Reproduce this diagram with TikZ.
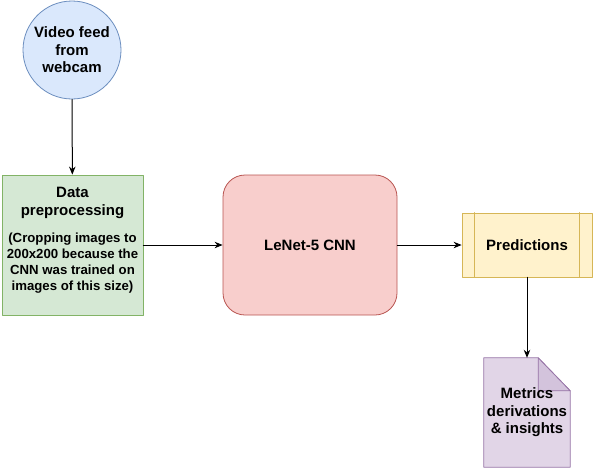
\documentclass[tikz,border=0pt]{standalone}
\usepackage{fontspec}
\setmainfont{Liberation Sans}
\usepackage{tikz}
\usetikzlibrary{arrows.meta}
\usetikzlibrary{positioning}
\definecolor{feedfill}{HTML}{DAE8FC}
\definecolor{feedline}{HTML}{6C8EBF}
\definecolor{prepfill}{HTML}{D5E8D4}
\definecolor{prepline}{HTML}{82B366}
\definecolor{cnnfill}{HTML}{F8CECC}
\definecolor{cnnline}{HTML}{B85450}
\definecolor{predfill}{HTML}{FFF2CC}
\definecolor{predline}{HTML}{D6B656}
\definecolor{docfill}{HTML}{E1D5E7}
\definecolor{docfold}{HTML}{D3C3DC}
\definecolor{docline}{HTML}{9673A6}
\newcommand{\notefont}{\fontsize{13.2}{15.5}\selectfont}
\tikzset{
  bigtxt/.style={font=\fontsize{15}{17.5}\selectfont\bfseries, align=center},
  flow/.style={->, line width=1pt}
}
\begin{document}
\begin{tikzpicture}[line cap=round,line join=round,>={Stealth[length=8pt,width=6.5pt]},x=1pt,y=-1pt]
\useasboundingbox (0,0) rectangle (594,469);
\node[circle, draw=feedline, fill=feedfill, line width=0.8pt, minimum size=98pt, inner sep=0pt, bigtxt] (feed) at (72,50) {Video feed\\from\\webcam};
\node[rectangle, draw=prepline, fill=prepfill, line width=0.8pt, minimum width=141pt, minimum height=140pt, inner sep=0pt, bigtxt] (prep) at (72.5,245) {Data\\preprocessing\\[10pt]
{\notefont (Cropping images to}\\[-1.5pt]{\notefont 200x200 because the}\\[-1.5pt]{\notefont CNN was trained on}\\[-1.5pt]{\notefont images of this size)}\\[-6pt]};
\node[rectangle, rounded corners=22pt, draw=cnnline, fill=cnnfill, line width=0.8pt, minimum width=174pt, minimum height=140pt, bigtxt] (cnn) at (310,245) {LeNet-5 CNN};
\node[rectangle, draw=predline, fill=predfill, line width=0.8pt, minimum width=130pt, minimum height=64pt, bigtxt] (pred) at (527,245) {Predictions};
\draw[predline, line width=0.8pt] ([xshift=13pt]pred.north west) -- ([xshift=13pt]pred.south west);
\draw[predline, line width=0.8pt] ([xshift=-13pt]pred.north east) -- ([xshift=-13pt]pred.south east);
\node[minimum width=86pt, minimum height=109pt, bigtxt] (metrics) at (527,412.5) {};
\draw[docline, fill=docfill, line width=0.8pt] (metrics.north west) -- ([xshift=-32pt]metrics.north east) -- ([yshift=-33pt]metrics.north east) -- (metrics.south east) -- (metrics.south west) -- cycle;
\draw[docline, fill=docfold, line width=0.8pt] ([xshift=-32pt]metrics.north east) -- ([xshift=-32pt,yshift=-33pt]metrics.north east) -- ([yshift=-33pt]metrics.north east) -- cycle;
\node[bigtxt] (metricstxt) at (metrics.center) {Metrics\\derivations\\\& insights};
\draw[flow] (feed) -- (prep);
\draw[flow] (prep) -- (cnn);
\draw[flow] (cnn) -- (pred);
\draw[flow] (pred) -- (metrics);
\end{tikzpicture}
\end{document}
